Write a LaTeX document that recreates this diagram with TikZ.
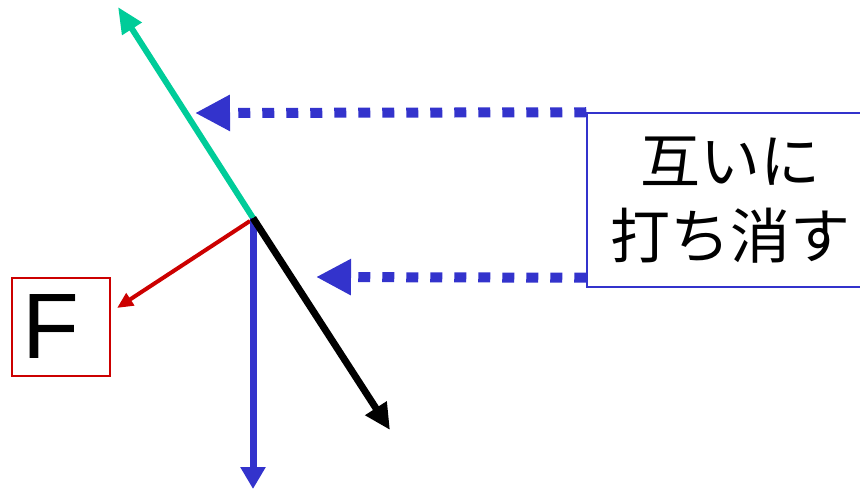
\documentclass[tikz,border=0pt]{standalone}
\usepackage{fontspec}
\setmainfont{Liberation Sans}
\newfontfamily\jpfont{Noto Sans CJK JP}
\usetikzlibrary{arrows.meta,positioning}
\definecolor{fblue}{RGB}{51,51,204}
\definecolor{fgreen}{RGB}{0,204,153}
\definecolor{fred}{RGB}{204,0,0}

\begin{document}
\begin{tikzpicture}[x=1pt,y=-1pt,
		greenvec/.style={fgreen,line width=6pt,-{Triangle[length=26pt,width=22pt]}},
		redvec/.style={fred,line width=4pt,-{Triangle[length=16pt,width=14pt]}},
		bluevec/.style={fblue,line width=7pt,-{Triangle[length=22pt,width=24pt]}},
		blackvec/.style={black,line width=7pt,-{Triangle[length=26pt,width=24pt]}},
		cancelarrow/.style={fblue,line width=10pt,dash pattern=on 12pt off 12pt,-{Triangle[length=35pt,width=34pt]}},
		notebox/.style={draw=fblue,line width=1.5pt,fill=white,inner sep=0pt,align=center,
			minimum width=286pt,minimum height=174pt,font=\jpfont\fontsize{60}{75}\selectfont},
		forcebox/.style={draw=fred,line width=1.5pt,inner sep=0pt,minimum size=98pt,
			font=\fontsize{93}{93}\selectfont}]
		\useasboundingbox (0,0) rectangle (860,489);

		% point of action and tips
		\coordinate (o) at (253,218);
		\coordinate (rs) at (250,221);
		\coordinate (g) at (118,7);
		\coordinate (r) at (117,308);
		\coordinate (b) at (253,489);
		\coordinate (k) at (390,430);

		\draw[greenvec] (o) to (g);
		\draw[redvec] (rs) to (r);
		\draw[bluevec] (o) to (b);
		\draw[blackvec] (o) to (k);

		\node[forcebox] (force) at (61,327) {F\hspace*{20pt}};
		\node[notebox] (note) at (730,200) {互いに\\打ち消す};

		\coordinate (t1) at (195,113);
		\coordinate (t2) at (316,277);
		\draw[cancelarrow] (note.north west) to (t1);
		\draw[cancelarrow] ([yshift=10pt]note.south west) to (t2);
	\end{tikzpicture}
\end{document}
